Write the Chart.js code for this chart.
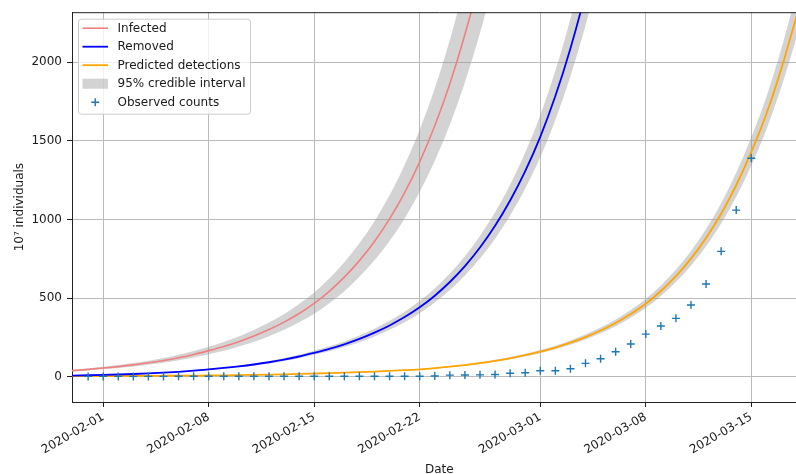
<!DOCTYPE html>
<html>
<head>
<meta charset="utf-8">
<script src="https://cdn.jsdelivr.net/npm/chart.js@4.4.1/dist/chart.umd.min.js"></script>
<style>
  html, body { margin: 0; padding: 0; background: #ffffff; overflow: hidden; }
  #wrap { width: 812px; height: 474px; }
</style>
</head>
<body>
<div id="wrap"><canvas id="chart" width="812" height="474"></canvas></div>
<script>
// ---- data -------------------------------------------------------------
// Model curves are daily values starting on this date.
const curveStart = '2020-01-29';
// Observed counts are daily values starting on this date.
const observedStart = '2020-01-31';

const tickLabels = ['2020-02-01', '2020-02-08', '2020-02-15', '2020-02-22',
                    '2020-03-01', '2020-03-08', '2020-03-15'];
const yTicks = [0, 500, 1000, 1500, 2000];

const infected = [33, 39, 46.4, 55, 64.4, 75.4, 88.3, 103.4, 121.1, 141.8,
  166, 192.4, 223, 258.4, 299.5, 347, 402, 466, 543, 633,
  738, 860, 1003, 1170, 1366, 1595, 1862, 2175, 2540, 2966, 3464];
const infectedUpper = [38, 45, 53, 63, 74, 87, 102, 119, 139, 163,
  191, 221, 256, 297, 344, 399, 462, 536, 624, 728,
  849, 989, 1153, 1346, 1571, 1834, 2141, 2501, 2921, 3411, 3984];
const infectedLower = [28, 34, 40, 47, 55, 65, 76, 89, 104, 122,
  143, 165, 192, 222, 258, 298, 346, 401, 467, 544,
  635, 740, 863, 1006, 1175, 1372, 1601, 1871, 2184, 2551, 2979];

const removed = [6.0, 7.45, 9.25, 11.5, 14.1, 17.2, 21.0, 25.7, 31.4, 38.4,
  47.0, 55.6, 65.7, 77.7, 91.9, 108.7, 128.5, 152, 177, 206,
  240, 280, 326, 379, 441, 515, 602, 703, 821, 959,
  1120, 1307, 1525, 1784, 2087, 2440, 2855];
const removedUpper = [6.5, 8.1, 10.1, 12.5, 15.4, 18.7, 22.9, 28.0, 34.2, 41.9,
  51.2, 60.6, 71.6, 84.7, 100.2, 118.5, 140.1, 165.7, 192.9, 224.5,
  261.6, 305.2, 355.3, 413.1, 480.7, 561.4, 656.2, 766.3, 894.9, 1045.3,
  1220.8, 1424.6, 1662.3, 1944.6, 2274.8, 2659.6, 3112];
const removedLower = [5.5, 6.8, 8.5, 10.5, 12.9, 15.7, 19.2, 23.5, 28.7, 35.1,
  43.0, 50.9, 60.1, 71.1, 84.1, 99.5, 117.6, 139.1, 162.0, 188.5,
  219.6, 256.2, 298.3, 346.8, 403.5, 471.2, 550.8, 643.2, 751.2, 877.5,
  1024.8, 1195.9, 1395.4, 1632.4, 1909.6, 2232.6, 2612.3];

const detections = [3.0, 3.3, 3.6, 4.0, 4.4, 4.9, 5.4, 6.0, 6.6, 7.3,
  8.0, 9.1, 10.4, 11.9, 13.5, 15.4, 17.6, 20.1, 22.7, 25.6,
  28.9, 32.7, 36.9, 41.6, 47.0, 54.7, 63.8, 74.3, 86.5, 100.8,
  117.3, 136.7, 159.2, 185.5, 216.1, 251.8, 293.4, 341.8, 398.3, 464,
  545, 640, 751, 882, 1036, 1217, 1429, 1670, 1960, 2290];
const detectionsUpper = [3.2, 3.5, 3.8, 4.3, 4.7, 5.2, 5.8, 6.4, 7.0, 7.8,
  8.5, 9.7, 11.1, 12.7, 14.4, 16.4, 18.7, 21.4, 24.2, 27.3,
  30.8, 34.8, 39.3, 44.3, 50.1, 58.3, 67.9, 79.1, 92.1, 107.4,
  124.9, 145.6, 169.5, 197.6, 230.1, 268.2, 312.5, 364.0, 424.2, 494.2,
  580.4, 681.6, 799.8, 939.3, 1103.3, 1296.1, 1521.9, 1778.6, 2087.4, 2438.9];
const detectionsLower = [2.8, 3.1, 3.4, 3.8, 4.1, 4.6, 5.1, 5.6, 6.2, 6.9,
  7.5, 8.6, 9.8, 11.2, 12.7, 14.5, 16.5, 18.9, 21.3, 24.1,
  27.2, 30.7, 34.7, 39.1, 44.2, 51.4, 60.0, 69.8, 81.3, 94.8,
  110.3, 128.5, 149.6, 174.4, 203.1, 236.7, 275.8, 321.3, 374.4, 436.2,
  512.3, 601.6, 705.9, 829.1, 973.8, 1144.0, 1343.3, 1569.8, 1842.4, 2152.6];

const observed = [2, 2, 2, 2, 2, 2, 3, 3, 3, 3,
  3, 3, 3, 3, 3, 3, 3, 3, 3, 3,
  3, 3, 3, 5, 10, 11, 12, 14, 22, 25,
  38, 38, 51, 85, 114, 159, 208, 271, 322, 371,
  456, 589, 797, 1059, 1389];

// ---- helpers ----------------------------------------------------------
// Day number counted from 2020-01-01 (UTC), used as the linear x value.
const epoch = Date.UTC(2020, 0, 1);
const dayNum = s => (Date.parse(s + 'T00:00:00Z') - epoch) / 864e5;
const dayLabel = v => new Date(epoch + Math.round(v) * 864e5).toISOString().slice(0, 10);
const daily = (values, start) => values.map((y, i) => ({ x: dayNum(start) + i, y }));

const tickDays = tickLabels.map(dayNum);

const bandFill = 'rgba(150,150,150,0.42)';
const gridColor = '#bababa';
const curve = (label, values, color, width) => ({
  label, data: daily(values, curveStart), borderColor: color, borderWidth: width,
  pointRadius: 0, fill: false, cubicInterpolationMode: 'monotone', order: 2,
  legendKind: 'line'
});
const band = (label, upper, lower, inLegend) => [
  { label, data: daily(upper, curveStart), borderWidth: 0, pointRadius: 0,
    backgroundColor: bandFill, fill: '+1', cubicInterpolationMode: 'monotone', order: 3,
    legendKind: inLegend ? 'band' : undefined },
  { label: label + ' (lower)', data: daily(lower, curveStart), borderWidth: 0, pointRadius: 0,
    fill: false, cubicInterpolationMode: 'monotone', order: 3 }
];

const datasets = [
  curve('Infected', infected, '#f08080', 1.6),
  curve('Removed', removed, '#0000ff', 1.8),
  curve('Predicted detections', detections, '#ffa500', 1.8),
  ...band('95% credible interval', infectedUpper, infectedLower, true),
  ...band('removed interval', removedUpper, removedLower, false),
  ...band('detections interval', detectionsUpper, detectionsLower, false),
  { label: 'Observed counts', data: daily(observed, observedStart), showLine: false,
    pointStyle: 'cross', pointRadius: 4, pointBorderWidth: 1.4,
    borderColor: '#1f77b4', backgroundColor: '#1f77b4', order: 1, legendKind: 'marker' }
];

// ---- plugins ----------------------------------------------------------
const topSpine = {
  id: 'topSpine',
  afterDatasetsDraw(chart) {
    const { ctx, chartArea: a } = chart;
    ctx.save();
    ctx.strokeStyle = '#222222';
    ctx.lineWidth = 1;
    ctx.beginPath();
    ctx.moveTo(a.left, a.top + 0.5);
    ctx.lineTo(a.right, a.top + 0.5);
    ctx.stroke();
    ctx.restore();
  }
};

const boxLegend = {
  id: 'boxLegend',
  afterDraw(chart) {
    const { ctx, chartArea: a } = chart;
    const order = ['line', 'band', 'marker'];
    const items = chart.data.datasets.filter(d => d.legendKind)
      .sort((p, q) => order.indexOf(p.legendKind) - order.indexOf(q.legendKind));
    const bx = a.left + 6.5, by = a.top + 7, bw = 172, bh = 95, r = 3;
    ctx.save();
    ctx.beginPath();
    ctx.moveTo(bx + r, by);
    ctx.arcTo(bx + bw, by, bx + bw, by + bh, r);
    ctx.arcTo(bx + bw, by + bh, bx, by + bh, r);
    ctx.arcTo(bx, by + bh, bx, by, r);
    ctx.arcTo(bx, by, bx + bw, by, r);
    ctx.closePath();
    ctx.fillStyle = 'rgba(255,255,255,0.8)';
    ctx.fill();
    ctx.strokeStyle = '#cccccc';
    ctx.lineWidth = 1;
    ctx.stroke();
    ctx.font = '12px "DejaVu Sans"';
    ctx.textBaseline = 'middle';
    ctx.textAlign = 'left';
    items.forEach((it, i) => {
      const cy = a.top + 16 + i * 18.5;
      const hx0 = bx + 4, hx1 = bx + 29.5;
      if (it.legendKind === 'line') {
        ctx.strokeStyle = it.borderColor;
        ctx.lineWidth = it.borderWidth;
        ctx.beginPath(); ctx.moveTo(hx0, cy); ctx.lineTo(hx1, cy); ctx.stroke();
      } else if (it.legendKind === 'band') {
        ctx.fillStyle = it.backgroundColor;
        ctx.fillRect(hx0, cy - 5, hx1 - hx0, 10);
      } else {
        const mx = (hx0 + hx1) / 2, s = it.pointRadius;
        ctx.strokeStyle = it.borderColor;
        ctx.lineWidth = it.pointBorderWidth;
        ctx.beginPath();
        ctx.moveTo(mx - s, cy); ctx.lineTo(mx + s, cy);
        ctx.moveTo(mx, cy - s); ctx.lineTo(mx, cy + s);
        ctx.stroke();
      }
      ctx.fillStyle = '#1a1a1a';
      ctx.fillText(it.label, bx + 39, cy + 0.5);
    });
    ctx.restore();
  }
};

// ---- chart ------------------------------------------------------------
Chart.defaults.font.family = '"DejaVu Sans", sans-serif';
Chart.defaults.font.size = 12;
Chart.defaults.color = '#1a1a1a';

new Chart(document.getElementById('chart'), {
  type: 'line',
  data: { datasets },
  options: {
    responsive: false,
    animation: false,
    events: [],
    layout: { padding: { top: 12, right: 4, bottom: 0, left: 0 } },
    plugins: { legend: { display: false }, tooltip: { enabled: false } },
    scales: {
      x: {
        type: 'linear',
        min: 28.93,
        max: 77.67,
        afterBuildTicks: axis => { axis.ticks = tickDays.map(value => ({ value })); },
        afterFit: axis => { axis.height = 72; },
        ticks: {
          autoSkip: false, minRotation: 30, maxRotation: 30, padding: 3,
          callback: value => dayLabel(value), color: '#1a1a1a'
        },
        grid: { color: gridColor, lineWidth: 1, tickColor: '#222222', tickLength: 5, tickWidth: 1 },
        border: { color: '#222222', width: 1 },
        title: { display: true, text: 'Date', padding: { top: 0, bottom: 0 },
                 font: { size: 12, lineHeight: 0.75 } }
      },
      y: {
        type: 'linear',
        min: -160.7,
        max: 2317,
        afterBuildTicks: axis => { axis.ticks = yTicks.map(value => ({ value })); },
        afterFit: axis => { axis.width = 72; },
        ticks: { padding: 5, color: '#1a1a1a', callback: value => String(value) },
        grid: { color: gridColor, lineWidth: 1, tickColor: '#222222', tickLength: 5, tickWidth: 1 },
        border: { color: '#222222', width: 1 },
        title: { display: true, text: '10\u2077 individuals', padding: { top: 13, bottom: 0 },
                 font: { size: 12 } }
      }
    }
  },
  plugins: [topSpine, boxLegend]
});
</script>
</body>
</html>
